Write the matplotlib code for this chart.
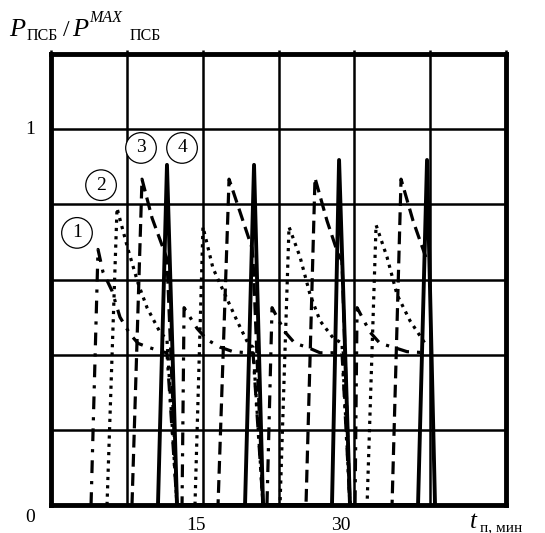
import matplotlib
matplotlib.use("Agg")
import matplotlib.pyplot as plt
import numpy as np

# curve 1 (dash-dot), 2 (dotted), 3 (dashed), 4 (solid); x in minutes, y = P / P_max
x1 = [3.96, 4.65, 5.14, 6.03, 6.82, 7.81, 8.61, 9.59, 10.98, 11.47, 12.46,
      12.96, 13.16, 14.44, 15.43, 16.72, 18.0, 19.49, 19.98, 20.97,
      21.36, 21.86, 23.15, 24.13, 25.32, 26.61, 28.78, 29.57,
      30.07, 30.27, 31.55, 32.54, 33.83, 35.21, 37.19]
y1 = [0, 0.68, 0.62, 0.57, 0.50, 0.455, 0.43, 0.42, 0.408, 0.405, 0,
      0, 0.525, 0.47, 0.44, 0.42, 0.408, 0.405, 0.405, 0,
      0, 0.525, 0.46, 0.43, 0.42, 0.405, 0.405, 0,
      0, 0.525, 0.46, 0.43, 0.42, 0.408, 0.405]

x2 = [5.54, 6.53, 7.02, 7.62, 8.61, 9.50, 10.78, 11.47, 12.46,
      14.24, 15.03, 16.02, 17.21, 18.40, 19.49, 19.98, 20.97,
      22.65, 23.54, 24.63, 25.62, 26.61, 27.89, 28.78, 29.57,
      31.26, 32.15, 33.23, 34.22, 35.51, 36.99]
y2 = [0, 0.79, 0.74, 0.68, 0.59, 0.525, 0.46, 0.44, 0,
      0, 0.74, 0.63, 0.56, 0.49, 0.43, 0.42, 0,
      0, 0.74, 0.66, 0.56, 0.49, 0.445, 0.43, 0,
      0, 0.745, 0.66, 0.56, 0.49, 0.43]

x3 = [8.01, 9.0, 9.99, 11.08, 11.47, 12.46,
      16.52, 17.61, 18.69, 19.88, 19.98, 20.97,
      25.22, 26.11, 27.30, 28.39, 28.78, 29.57,
      33.73, 34.62, 35.81, 37.19]
y3 = [0, 0.867, 0.764, 0.684, 0.655, 0,
      0, 0.867, 0.78, 0.684, 0.655, 0,
      0, 0.87, 0.756, 0.668, 0.65, 0,
      0, 0.867, 0.756, 0.65]

x4 = [10.58, 11.47, 12.46, 19.19, 20.08, 20.97, 27.79, 28.49, 29.57, 36.30, 37.19, 37.98]
y4 = [0, 0.905, 0, 0, 0.905, 0, 0, 0.918, 0, 0, 0.918, 0]

curve_labels = ["1", "2", "3", "4"]
label_x = [2.57, 4.95, 8.90, 12.96]
label_y = [0.724, 0.851, 0.950, 0.950]

SERIF = "Liberation Serif"

fig = plt.figure(figsize=(5.45, 5.33), dpi=100)
ax = fig.add_axes([51 / 545, 28 / 533, 455 / 545, 451 / 533])
ax.set_xlim(0, 45)
ax.set_ylim(0, 1.2)
ax.set_xticks(np.arange(0, 45.1, 7.5))
ax.set_yticks(np.arange(0, 1.21, 0.2))
ax.grid(True, color="black", lw=1.8)
ax.tick_params(labelbottom=False, labelleft=False, bottom=False, left=False,
               top=True, direction="out", length=3, width=1.8)
for s in ax.spines.values():
    s.set_linewidth(3.5)

ax.plot(x1, y1, color="black", lw=2.3, linestyle=(0, (4, 2.5, 1, 2.5)))
ax.plot(x2, y2, color="black", lw=2.3, linestyle=(0, (1, 1.6)))
ax.plot(x3, y3, color="black", lw=2.3, linestyle=(0, (4, 2)))
ax.plot(x4, y4, color="black", lw=2.8, linestyle="-")

for lab, lx, ly in zip(curve_labels, label_x, label_y):
    ax.text(lx, ly, lab, ha="center", va="center", fontsize=14, family=SERIF,
            bbox=dict(boxstyle="circle,pad=0.35", fc="white", ec="black", lw=0.9))

# axis value labels
fig.text(30 / 545, 1 - 517 / 533, "0", ha="center", va="center", fontsize=14, family=SERIF)
fig.text(30 / 545, 1 - 130 / 533, "1", ha="center", va="center", fontsize=14, family=SERIF)
fig.text(196 / 545, 1 - 525 / 533, "15", ha="center", va="center", fontsize=14, family=SERIF)
fig.text(341 / 545, 1 - 525 / 533, "30", ha="center", va="center", fontsize=14, family=SERIF)

# x axis title
fig.text(470 / 545, 1 - 528 / 533, "t", style="italic", fontsize=18, family=SERIF, va="baseline")
fig.text(480 / 545, 1 - 531 / 533, "п, мин", fontsize=11, family=SERIF, va="baseline")

# y axis title
fig.text(9 / 545, 1 - 36 / 533, "P", style="italic", fontsize=19, family=SERIF, va="baseline")
fig.text(27 / 545, 1 - 40 / 533, "ПСБ", fontsize=11.5, family=SERIF, va="baseline")
fig.text(63 / 545, 1 - 36 / 533, "/", fontsize=17, family=SERIF, va="baseline")
fig.text(72 / 545, 1 - 36 / 533, "P", style="italic", fontsize=19, family=SERIF, va="baseline")
fig.text(89 / 545, 1 - 22 / 533, "MAX", style="italic", fontsize=11.5, family=SERIF, va="baseline")
fig.text(130 / 545, 1 - 40 / 533, "ПСБ", fontsize=11.5, family=SERIF, va="baseline")

fig.savefig("out.png", dpi=100)
